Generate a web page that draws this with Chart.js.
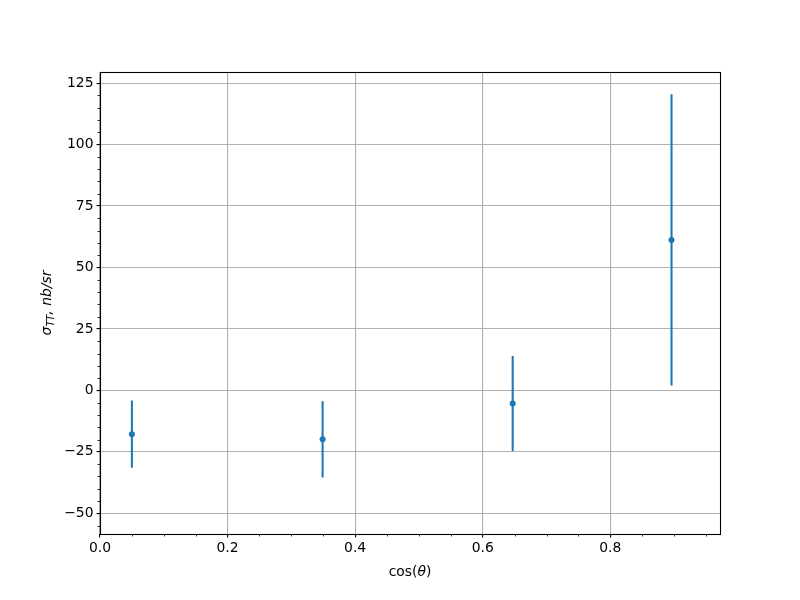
<!DOCTYPE html>
<html>
<head>
<meta charset="utf-8">
<script src="https://cdn.jsdelivr.net/npm/chart.js@4"></script>
<style>
html,body{margin:0;padding:0;background:#fff;}
#wrap{width:800px;height:600px;}
</style>
</head>
<body>
<div id="wrap"><canvas id="c" width="800" height="600"></canvas></div>
<script>
// ---- data ----
const cosTheta = [0.05, 0.349, 0.647, 0.896];
const sigmaTT = [-17.8, -19.9, -5.3, 61.2];
const sigmaErr = [13.7, 15.5, 19.3, 59.2];
const yMajorTicks = [-50, -25, 0, 25, 50, 75, 100, 125];
const xMajorTicks = [0.0, 0.2, 0.4, 0.6, 0.8];
const yMinorStep = 5;
const xMinorStep = 0.05;
const xLimits = [0, 0.972];
const yLimits = [-58.4, 129.5];

const BLUE = '#1f77b4';
const FONT = 'DejaVu Sans';
const FS = 13.9;

const errorBarPlugin = {
  id: 'errorBars',
  beforeDatasetsDraw(chart) {
    const ctx = chart.ctx, xs = chart.scales.x, ys = chart.scales.y;
    ctx.save();
    ctx.strokeStyle = BLUE;
    ctx.lineWidth = 2.08;
    ctx.beginPath();
    for (let i = 0; i < cosTheta.length; i++) {
      const px = xs.getPixelForValue(cosTheta[i]);
      ctx.moveTo(px, ys.getPixelForValue(sigmaTT[i] + sigmaErr[i]));
      ctx.lineTo(px, ys.getPixelForValue(sigmaTT[i] - sigmaErr[i]));
    }
    ctx.stroke();
    ctx.restore();
  }
};

const framePlugin = {
  id: 'frame',
  afterDraw(chart) {
    const ctx = chart.ctx, a = chart.chartArea, xs = chart.scales.x, ys = chart.scales.y;
    ctx.save();
    // minor ticks
    ctx.strokeStyle = '#000';
    ctx.lineWidth = 0.8;
    ctx.beginPath();
    for (let v = Math.ceil(yLimits[0] / yMinorStep) * yMinorStep; v <= yLimits[1]; v += yMinorStep) {
      if (yMajorTicks.includes(v)) continue;
      const py = Math.round(ys.getPixelForValue(v)) + 0.5;
      ctx.moveTo(a.left, py); ctx.lineTo(a.left - 2.5, py);
    }
    for (let k = 1; k * xMinorStep <= xLimits[1]; k++) {
      const v = +(k * xMinorStep).toFixed(2);
      if (xMajorTicks.some(t => Math.abs(t - v) < 1e-9)) continue;
      const px = Math.round(xs.getPixelForValue(v)) + 0.5;
      ctx.moveTo(px, a.bottom); ctx.lineTo(px, a.bottom + 2.5);
    }
    ctx.stroke();
    // spines
    ctx.lineWidth = 1.1;
    ctx.strokeRect(Math.round(a.left) + 0.5, Math.round(a.top) + 0.5, Math.round(a.right - a.left), Math.round(a.bottom - a.top));
    // axis titles
    ctx.fillStyle = '#000';
    ctx.textBaseline = 'alphabetic';
    const cx = (a.left + a.right) / 2;
    const parts = [['cos(', 'normal'], ['θ', 'italic'], [')', 'normal']];
    let total = 0;
    parts.forEach(p => { ctx.font = p[1] + ' ' + FS + 'px "' + FONT + '"'; total += ctx.measureText(p[0]).width; });
    let x = cx - total / 2;
    parts.forEach(p => { ctx.font = p[1] + ' ' + FS + 'px "' + FONT + '"'; ctx.fillText(p[0], x, 576); x += ctx.measureText(p[0]).width; });
    // y title
    ctx.translate(51, (a.top + a.bottom) / 2);
    ctx.rotate(-Math.PI / 2);
    const yparts = [['σ', 'italic ' + FS + 'px', 0], ['TT', 'italic 9.8px', 3], [', nb/sr', 'italic ' + FS + 'px', 0]];
    total = 0;
    yparts.forEach(p => { ctx.font = p[1] + ' "' + FONT + '"'; total += ctx.measureText(p[0]).width; });
    x = -total / 2;
    yparts.forEach(p => { ctx.font = p[1] + ' "' + FONT + '"'; ctx.fillText(p[0], x, p[2]); x += ctx.measureText(p[0]).width; });
    ctx.restore();
  }
};

new Chart(document.getElementById('c'), {
  type: 'scatter',
  data: {
    datasets: [{
      data: cosTheta.map((x, i) => ({ x: x, y: sigmaTT[i] })),
      backgroundColor: BLUE,
      borderColor: BLUE,
      pointRadius: 3,
      borderWidth: 0
    }]
  },
  options: {
    responsive: false,
    animation: false,
    layout: { padding: { left: 0, right: 80, top: 72, bottom: 0 } },
    plugins: { legend: { display: false }, tooltip: { enabled: false } },
    scales: {
      x: {
        type: 'linear',
        min: xLimits[0], max: xLimits[1],
        afterBuildTicks: s => { s.ticks = xMajorTicks.map(v => ({ value: v })); },
        afterFit: s => { s.height = 66; },
        border: { display: false },
        grid: { color: '#b0b0b0', lineWidth: 1.1, tickColor: '#000', tickLength: 3.5, drawTicks: true },
        ticks: {
          color: '#000', font: { family: FONT, size: FS }, padding: 3,
          maxRotation: 0, autoSkip: false,
          callback: v => v.toFixed(1)
        }
      },
      y: {
        type: 'linear',
        min: yLimits[0], max: yLimits[1],
        afterBuildTicks: s => { s.ticks = yMajorTicks.map(v => ({ value: v })); },
        afterFit: s => { s.width = 100; },
        border: { display: false },
        grid: { color: '#b0b0b0', lineWidth: 1.1, tickColor: '#000', tickLength: 3.5, drawTicks: true },
        ticks: {
          color: '#000', font: { family: FONT, size: FS }, padding: 3,
          autoSkip: false,
          callback: v => (v < 0 ? '\u2212' + Math.abs(v) : String(v))
        }
      }
    }
  },
  plugins: [errorBarPlugin, framePlugin]
});
</script>
</body>
</html>
